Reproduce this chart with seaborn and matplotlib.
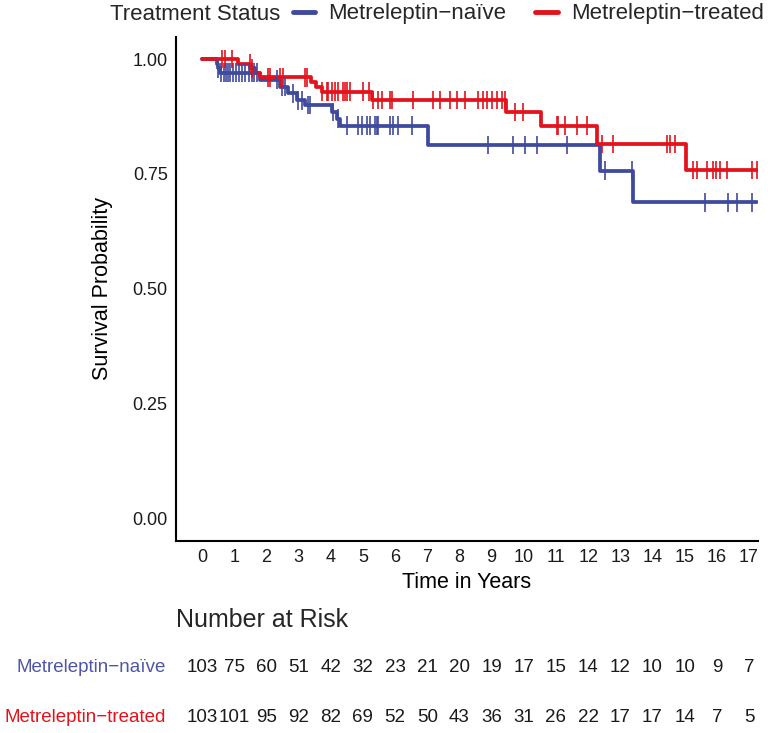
import numpy as np
import pandas as pd
import matplotlib
matplotlib.use("Agg")
import matplotlib.pyplot as plt
import matplotlib.transforms as mtransforms
from matplotlib.lines import Line2D
import seaborn as sns

# ---------------- data ----------------
groups = ["Metreleptin\u2212na\u00efve", "Metreleptin\u2212treated"]
colors = {"Metreleptin\u2212na\u00efve": "#3F4A9E", "Metreleptin\u2212treated": "#E3121B"}
label_colors = ["#4F55A8", "#E3121B"]

naive_times = [0, 0.45, 0.5, 0.55, 1.8, 2.42, 2.68, 2.95, 3.2, 4.05, 4.18, 4.28, 7.02, 12.37, 13.4, 17.24]
naive_surv = [1.0, 0.99, 0.98, 0.97, 0.955, 0.94, 0.925, 0.91, 0.90, 0.885, 0.87, 0.855, 0.813, 0.757, 0.688, 0.688]

treated_times = [0, 1.12, 1.5, 1.65, 1.8, 3.4, 3.55, 3.72, 5.27, 9.45, 10.55, 12.27, 15.05, 17.25]
treated_surv = [1.0, 0.99, 0.98, 0.97, 0.96, 0.95, 0.94, 0.929, 0.911, 0.885, 0.855, 0.815, 0.758, 0.758]

naive_censor = [0.5, 0.6, 0.68, 0.75, 0.82, 0.88, 0.95, 1.05, 1.15, 1.25, 1.35, 1.45, 1.55,
                1.62, 1.7, 2.33, 2.48, 2.58, 2.83, 2.98, 3.1, 3.3, 3.36, 4.07, 4.22, 4.5,
                4.85, 4.96, 5.12, 5.22, 5.38, 5.43, 5.48, 5.84, 5.94, 6.1, 6.52, 8.9, 9.67,
                10.04, 10.42, 11.33, 12.52, 13.35, 15.63, 16.36, 16.62, 17.08]
treated_censor = [0.61, 0.71, 0.92, 1.49, 1.54, 2.05, 2.11, 2.42, 2.52, 3.2, 3.25, 3.72, 3.87,
                  3.92, 4.04, 4.13, 4.22, 4.38, 4.45, 4.5, 4.6, 5.0, 5.2, 5.3, 5.48, 5.6,
                  5.85, 5.9, 6.57, 7.18, 7.4, 7.7, 7.92, 8.17, 8.58, 8.73, 8.86, 9.01, 9.17,
                  9.32, 9.41, 9.73, 9.98, 11.02, 11.07, 11.28, 11.64, 11.95, 12.42, 12.78,
                  14.44, 14.54, 14.7, 15.26, 15.37, 15.68, 15.88, 15.99, 16.1, 16.31, 17.08, 17.24]

risk_times = list(range(0, 18))
risk_naive = [103, 75, 60, 51, 42, 32, 23, 21, 20, 19, 17, 15, 14, 12, 10, 10, 9, 7]
risk_treated = [103, 101, 95, 92, 82, 69, 52, 50, 43, 36, 31, 26, 22, 17, 17, 14, 7, 5]

y_ticks = [0.0, 0.25, 0.5, 0.75, 1.0]
y_ticklabels = ["0.00", "0.25", "0.50", "0.75", "1.00"]

# ---------------- frames ----------------
curve_df = pd.concat([
    pd.DataFrame({"time": naive_times, "surv": naive_surv, "group": groups[0]}),
    pd.DataFrame({"time": treated_times, "surv": treated_surv, "group": groups[1]}),
], ignore_index=True)


def step_value(times, surv, t):
    idx = np.searchsorted(np.asarray(times), t, side="right") - 1
    return np.asarray(surv)[idx]


cens_df = pd.concat([
    pd.DataFrame({"time": naive_censor,
                  "surv": step_value(naive_times, naive_surv, naive_censor),
                  "group": groups[0]}),
    pd.DataFrame({"time": treated_censor,
                  "surv": step_value(treated_times, treated_surv, treated_censor),
                  "group": groups[1]}),
], ignore_index=True)

# ---------------- plot ----------------
sns.set_theme(style="white")
plt.rcParams["font.family"] = ["Liberation Sans", "DejaVu Sans"]

W, H = 768, 733
fig = plt.figure(figsize=(W / 100, H / 100), dpi=100)

ax_left, ax_right, ax_top, ax_bot = 176, 758, 37, 541
ax = fig.add_axes([ax_left / W, 1 - ax_bot / H, (ax_right - ax_left) / W, (ax_bot - ax_top) / H])

sns.lineplot(data=curve_df, x="time", y="surv", hue="group", palette=colors,
             hue_order=groups, estimator=None, sort=False, drawstyle="steps-post",
             linewidth=2.7, legend=False, ax=ax)
sns.scatterplot(data=cens_df, x="time", y="surv", hue="group", palette=colors,
                hue_order=groups, marker="|", s=180, linewidth=1.2, legend=False,
                ax=ax, zorder=3)

ax.set_xlim(-0.81, 17.28)
ax.set_ylim(-0.05, 1.048)
ax.set_xticks(risk_times)
ax.set_xticklabels([str(t) for t in risk_times], fontsize=13, color="#1a1a1a")
ax.set_yticks(y_ticks)
ax.set_yticklabels(y_ticklabels, fontsize=13, color="#1a1a1a")
ax.tick_params(axis="both", length=0)
ax.tick_params(axis="x", pad=6)
ax.tick_params(axis="y", pad=6)
ax.set_xlabel("Time in Years", fontsize=15.5, color="black", labelpad=4)
ax.set_ylabel("Survival Probability", fontsize=15.5, color="black", labelpad=14)
for side in ["top", "right"]:
    ax.spines[side].set_visible(False)
for side in ["left", "bottom"]:
    ax.spines[side].set_color("black")
    ax.spines[side].set_linewidth(1.5)
ax.grid(False)

# legend
fig.text(110 / W, 1 - 14 / H, "Treatment Status", fontsize=16, ha="left", va="center")
handles = [Line2D([0], [0], color=colors[g], lw=3.5) for g in groups]
fig.legend(handles, groups, ncol=2, loc="center left",
           bbox_to_anchor=(293 / W, 1 - 14 / H), frameon=False, fontsize=16,
           handlelength=1.0, handletextpad=0.6, columnspacing=1.3,
           borderpad=0, borderaxespad=0)

# number at risk table
trans = mtransforms.blended_transform_factory(ax.transData, fig.transFigure)
fig.text(176 / W, 1 - 620 / H, "Number at Risk", fontsize=18, ha="left", va="center")
row_y = [668, 718]
for r, (g, vals) in enumerate(zip(groups, [risk_naive, risk_treated])):
    fig.text(166 / W, 1 - row_y[r] / H, g, fontsize=13.5, ha="right", va="center",
             color=label_colors[r])
    for t, v in zip(risk_times, vals):
        ax.text(t, 1 - row_y[r] / H, str(v), transform=trans, fontsize=13.5,
                ha="center", va="center", color="#1a1a1a", clip_on=False)

fig.savefig("out.png", dpi=100, facecolor="white")
